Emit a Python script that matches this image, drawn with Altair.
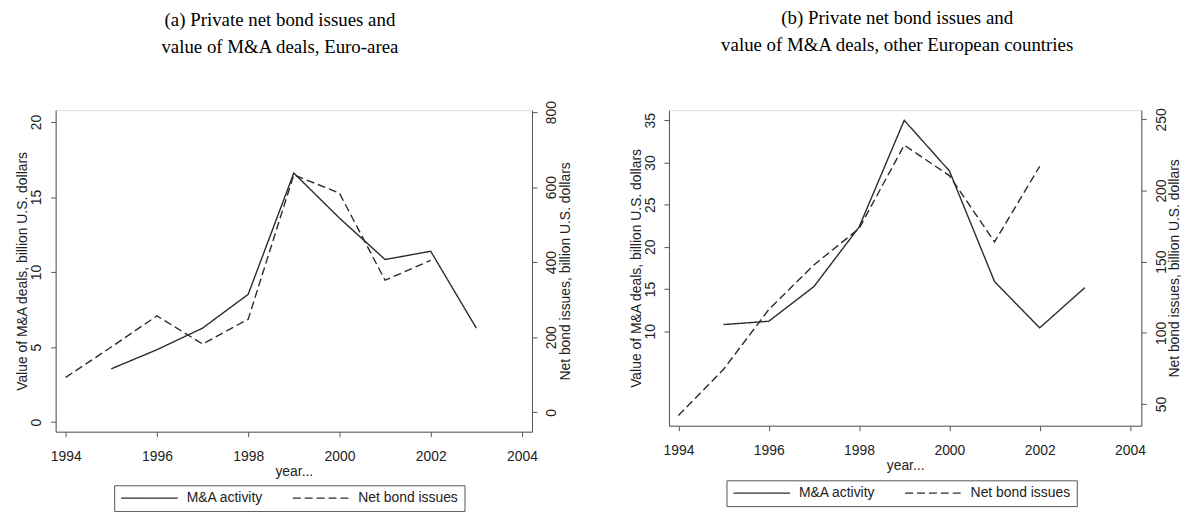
import altair as alt
import pandas as pd

# ---- data ----
years_bond = [1994, 1995, 1996, 1997, 1998, 1999, 2000, 2001, 2002]
years_ma = [1995, 1996, 1997, 1998, 1999, 2000, 2001, 2002, 2003]

ea_ma = [3.56, 4.83, 6.27, 8.52, 16.6, 13.6, 10.84, 11.39, 6.27]
ea_bond = [93, 174, 257, 182, 248, 633, 584, 352, 405]

oe_ma = [10.79, 11.18, 15.29, 22.34, 35.0, 29.0, 15.88, 10.40, 15.17]
oe_bond = [41.9, 74.4, 116.3, 147.7, 173.3, 231.9, 210.5, 163.9, 217.0]

series_names = ["M&A activity", "Net bond issues"]
x_ticks = [1994, 1996, 1998, 2000, 2002, 2004]

FONT = "Liberation Sans"
SERIF = "Liberation Serif"
LINE = "#2b2b2b"
AX = "#555555"
TXT = "#222222"


def frame(ma, bond):
    a = pd.DataFrame({"year": years_ma, "value": ma, "series": series_names[0]})
    b = pd.DataFrame({"year": years_bond, "value": bond, "series": series_names[1]})
    return a, b


def xaxis():
    return alt.Axis(values=x_ticks, format="d", title="year...", grid=False,
                    labelFont=FONT, labelFontSize=14, labelColor=TXT,
                    titleFont=FONT, titleFontSize=14, titleFontWeight="normal",
                    titleColor=TXT, titlePadding=1, labelPadding=13,
                    tickSize=5, tickColor=AX, domainColor=AX, labelFlush=False)


def yaxis(orient, ticks, title, tpad):
    base = "bottom" if orient == "left" else "top"
    lpad = 7 if orient == "left" else 8
    return alt.Axis(orient=orient, values=ticks, title=title, grid=False,
                    labelAngle=270, labelAlign="center", labelBaseline=base,
                    labelFont=FONT, labelFontSize=14, labelColor=TXT,
                    titleAngle=270, titleBaseline=base, titleAlign="center",
                    titleFont=FONT, titleFontSize=14, titleFontWeight="normal",
                    titleColor=TXT, titlePadding=tpad, labelPadding=lpad,
                    tickSize=5, tickColor=AX, domainColor=AX)


def panel(ma, bond, xdom, ldom, lticks, rdom, rticks, title, w, h, lx, ly, tdx, toff, rtpad):
    a, b = frame(ma, bond)
    dash = alt.StrokeDash("series:N",
                          scale=alt.Scale(domain=series_names, range=[[1, 0], [8, 4]]),
                          legend=alt.Legend(orient="none", legendX=lx, legendY=ly,
                                            direction="horizontal", columns=2, title=None,
                                            strokeColor=AX, padding=6, clipHeight=14,
                                            symbolType="stroke", symbolSize=3249,
                                            symbolStrokeWidth=1.3, symbolStrokeColor=LINE,
                                            labelFont=FONT, labelFontSize=14,
                                            labelColor=TXT, labelOffset=8,
                                            columnPadding=28))
    x = alt.X("year:Q", scale=alt.Scale(domain=xdom, nice=False, zero=False), axis=xaxis())
    l1 = alt.Chart(a).mark_line(color=LINE, strokeWidth=1.4).encode(
        x=x,
        y=alt.Y("value:Q", scale=alt.Scale(domain=ldom, nice=False, zero=False),
                axis=yaxis("left", lticks, "Value of M&A deals, billion U.S. dollars", 0)),
        strokeDash=dash,
    )
    l2 = alt.Chart(b).mark_line(color=LINE, strokeWidth=1.4).encode(
        x=x,
        y=alt.Y("value:Q", scale=alt.Scale(domain=rdom, nice=False, zero=False),
                axis=yaxis("right", rticks, "Net bond issues, billion U.S. dollars", rtpad)),
        strokeDash=dash,
    )
    return alt.layer(l1, l2).resolve_scale(y="independent").properties(
        width=w, height=h,
        title=alt.TitleParams(text=title, font=SERIF, fontSize=19, fontWeight="normal",
                              color="black", lineHeight=27, anchor="middle", dx=tdx,
                              offset=toff),
    )


left = panel(ea_ma, ea_bond, [1993.78, 2004.22], [-0.63, 20.79], [0, 5, 10, 15, 20],
             [-51.7, 805.3], [0, 200, 400, 600, 800],
             ["(a) Private net bond issues and", "value of M&A deals, Euro-area"],
             480, 324, 59, 378, -14, 44, 0)
right = panel(oe_ma, oe_bond, [1993.79, 2004.25], [-1.2, 36.2], [10, 15, 20, 25, 30, 35],
              [34.7, 256.5], [50, 100, 150, 200, 250],
              ["(b) Private net bond issues and", "value of M&A deals, other European countries"],
              476, 318, 58, 373, -8, 53, -1)

chart = alt.hconcat(left, right, spacing=55).resolve_legend(strokeDash="independent").properties(
    padding={"left": 7, "top": -1, "right": 0, "bottom": 0}
).configure_view(strokeWidth=0).configure(background="white")

chart.save("out.html", embed_options={"renderer": "svg", "actions": False})
